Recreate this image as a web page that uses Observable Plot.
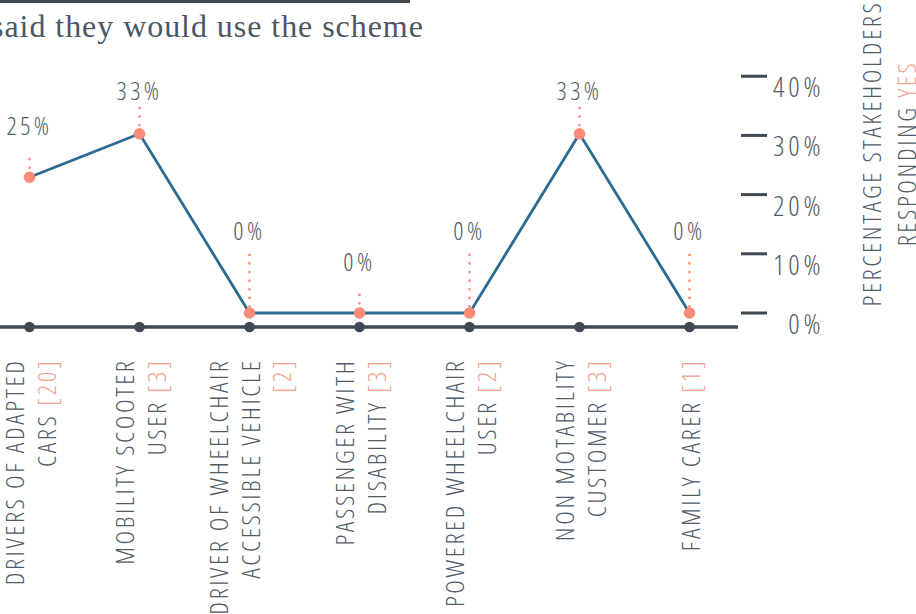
<!DOCTYPE html>
<html>
<head>
<meta charset="utf-8">
<script src="https://cdn.jsdelivr.net/npm/d3@7"></script>
<script src="https://cdn.jsdelivr.net/npm/@observablehq/plot@0.6"></script>
<style>
html, body { margin: 0; padding: 0; background: #fff; overflow: hidden; }
#title { position: relative; width: 916px; height: 46px; }
#title .bar { position: absolute; left: 0; top: 0; width: 410px; height: 3px; background: #3e4a55; }
#title .text { position: absolute; left: -9px; top: 10px; font-family: "Liberation Serif", "DejaVu Serif", serif; font-size: 32px; line-height: 1; letter-spacing: 0.95px; color: #4a5763; white-space: nowrap; }
#chart svg { display: block; overflow: visible; }
</style>
</head>
<body>
<div id="title"><div class="bar"></div><div class="text">said they would use the scheme</div></div>
<div id="chart"></div>
<script>
// ---- data ----
const categoryLabels = [
  "DRIVERS OF ADAPTED\nCARS [20]",
  "MOBILITY SCOOTER\nUSER [3]",
  "DRIVER OF WHEELCHAIR\nACCESSIBLE VEHICLE\n[2]",
  "PASSENGER WITH\nDISABILITY [3]",
  "POWERED WHEELCHAIR\nUSER [2]",
  "NON MOTABILITY\nCUSTOMER [3]",
  "FAMILY CARER [1]"
];
const percentYes = [25, 33, 0, 0, 0, 33, 0];
const valueLabels = ["25%", "33%", "0%", "0%", "0%", "33%", "0%"];
const yTicks = [0, 10, 20, 30, 40];
const yTickLabels = ["0%", "10%", "20%", "30%", "40%"];
const axisTitle = "PERCENTAGE STAKEHOLDERS\nRESPONDING YES";

// ---- styling / layout ----
const dark = "#3e4a55", gray = "#4f5b66", blue = "#2e6b92", salmon = "#fa8b77", salmonText = "#f7a08d";
const axisStretch = 1.09; // the reference's right axis is spaced slightly wider than its points
const placement = ["near", "peak", "far", "near", "far", "peak", "far"];
const place = {
  near: {label: 50, from: 9, to: 21},
  peak: {label: 42, from: 8, to: 26},
  far:  {label: 81, from: 6, to: 58}
};

function measure(css) {
  const s = document.createElement("span");
  s.style.cssText = "position:absolute;left:-9999px;top:0;white-space:nowrap;font-size:40px;" + css;
  s.textContent = "DRIVERS OF ADAPTED 0123456789%";
  document.body.appendChild(s);
  const w = s.getBoundingClientRect().width;
  s.remove();
  return w;
}
let font = null;
for (const fam of ["'Open Sans'", "Roboto"]) {
  const w100 = measure(`font-family:${fam};font-weight:300;font-stretch:100%`);
  const w75 = measure(`font-family:${fam};font-weight:300;font-stretch:75%`);
  if (w75 < w100 * 0.9) { font = {family: fam, weight: 300, stretch: "75%"}; break; }
}
if (!font) {
  const n = measure("font-family:'Liberation Sans Narrow',monospace");
  const m = measure("font-family:monospace");
  font = n !== m ? {family: "'Liberation Sans Narrow'", weight: 400, stretch: "normal"}
                 : {family: "'DejaVu Sans'", weight: 400, stretch: "condensed"};
}
const st = document.createElement("style");
st.textContent = `#chart svg text { font-family: ${font.family}, sans-serif; font-weight: ${font.weight}; font-stretch: ${font.stretch}; letter-spacing: 0.14em; }
#chart svg text[transform*="rotate"] { letter-spacing: 0.1em; }`;
document.head.appendChild(st);

const data = categoryLabels.map((label, i) => ({label, value: percentYes[i], text: valueLabels[i], place: placement[i]}));

const marks = [
  Plot.ruleY([0], {dy: 14, insetLeft: -28, insetRight: -48, stroke: dark, strokeWidth: 3.5}),
  Plot.dot(data, {x: "label", y: () => 0, dy: 14, r: 5.3, fill: dark}),
  Plot.line(data, {x: "label", y: "value", stroke: blue, strokeWidth: 2.8})
];
for (const key of Object.keys(place)) {
  const p = place[key];
  const sub = data.filter(d => d.place === key);
  marks.push(Plot.ruleX(sub, {x: "label", y1: "value", y2: "value", insetTop: -p.from, insetBottom: p.to,
    stroke: salmon, strokeWidth: 2.6, strokeDasharray: "0.1 8.5", strokeLinecap: "round"}));
}
marks.push(Plot.dot(data, {x: "label", y: "value", r: 5.8, fill: salmon}));
for (const key of Object.keys(place)) {
  const p = place[key];
  const sub = data.filter(d => d.place === key);
  marks.push(Plot.text(sub, {x: "label", y: "value", text: "text", dy: -p.label, fontSize: 25, fill: gray, textAnchor: "middle"}));
}
marks.push(
  Plot.ruleY(yTicks, {y: d => d * axisStretch, insetLeft: 713, insetRight: -77, stroke: dark, strokeWidth: 3}),
  Plot.text(yTicks, {y: d => d * axisStretch, text: (d, i) => yTickLabels[i], frameAnchor: "right", dx: 134, dy: 12, textAnchor: "end", fontSize: 28, fill: gray}),
  Plot.text(data, {x: "label", y: () => 0, dy: 45.5, text: "label", rotate: -90, textAnchor: "end", lineAnchor: "middle", lineHeight: 1.22, fontSize: 26, fill: gray}),
  Plot.text([axisTitle], {text: d => d, frameAnchor: "right", dx: 196.5, dy: -177, rotate: -90, textAnchor: "middle", lineAnchor: "middle", lineHeight: 1.35, fontSize: 26, fill: gray})
);

const svg = Plot.plot({
  width: 916, height: 568,
  marginLeft: 28, marginRight: 226, marginTop: 0, marginBottom: 0,
  x: {type: "point", domain: categoryLabels, range: [28, 690], padding: 0, axis: null},
  y: {domain: [0, 33], range: [266.5, 87.3], axis: null},
  marks
});

// colour the respondent counts and the word YES
d3.select(svg).selectAll("text, tspan").each(function () {
  if (this.children.length) return;
  const t = this.textContent;
  const m = t.match(/^(.*?)(\[\d+\]|YES)$/);
  if (!m) return;
  this.textContent = m[1];
  const sp = document.createElementNS("http://www.w3.org/2000/svg", "tspan");
  sp.setAttribute("fill", salmonText);
  sp.textContent = m[2];
  this.appendChild(sp);
});

document.getElementById("chart").appendChild(svg);
</script>
</body>
</html>
